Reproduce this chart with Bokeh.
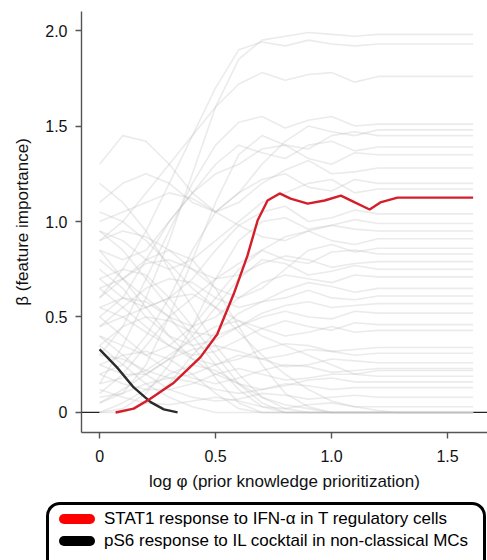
import html
from bokeh.plotting import figure
from bokeh.models import Range1d, FixedTicker, Div
from bokeh.layouts import column
from bokeh.embed import file_html
from bokeh.resources import INLINE

# ---------------- data ----------------
phi_grid = [0.0, 0.1, 0.2, 0.3, 0.4, 0.5, 0.6, 0.7, 0.8, 0.9, 1.0, 1.1, 1.2, 1.28, 1.61]

bg_high = [
    [0.15, 0.35, 0.60, 0.90, 1.25, 1.60, 1.85, 1.95, 1.97, 1.99, 1.98, 1.97, 1.98, 1.98, 1.98],
    [0.60, 0.75, 0.95, 1.20, 1.45, 1.70, 1.90, 1.94, 1.92, 1.95, 1.93, 1.92, 1.93, 1.93, 1.93],
    [0.90, 1.00, 1.15, 1.30, 1.45, 1.60, 1.72, 1.78, 1.74, 1.77, 1.78, 1.73, 1.76, 1.76, 1.76],
    [0.30, 0.45, 0.70, 0.95, 1.20, 1.40, 1.52, 1.55, 1.49, 1.53, 1.55, 1.50, 1.51, 1.51, 1.51],
    [1.30, 1.45, 1.42, 1.30, 1.15, 1.05, 1.15, 1.30, 1.42, 1.50, 1.47, 1.45, 1.48, 1.48, 1.48],
    [0.05, 0.10, 0.25, 0.50, 0.80, 1.10, 1.35, 1.45, 1.40, 1.38, 1.45, 1.47, 1.45, 1.45, 1.45],
    [0.85, 0.80, 0.85, 1.00, 1.15, 1.30, 1.40, 1.36, 1.33, 1.40, 1.42, 1.37, 1.39, 1.39, 1.39],
    [0.50, 0.60, 0.80, 1.00, 1.15, 1.25, 1.30, 1.38, 1.40, 1.33, 1.30, 1.36, 1.35, 1.35, 1.35],
    [1.10, 1.20, 1.25, 1.20, 1.10, 1.05, 1.10, 1.20, 1.27, 1.32, 1.25, 1.26, 1.28, 1.28, 1.28],
    [0.20, 0.25, 0.40, 0.60, 0.85, 1.05, 1.15, 1.22, 1.25, 1.18, 1.16, 1.22, 1.20, 1.20, 1.20],
    [0.95, 0.90, 0.80, 0.75, 0.80, 0.90, 1.00, 1.10, 1.15, 1.20, 1.22, 1.15, 1.17, 1.17, 1.17],
    [0.70, 0.60, 0.55, 0.60, 0.70, 0.85, 0.98, 1.05, 1.08, 1.00, 1.02, 1.06, 1.04, 1.04, 1.04],
]

bg_mid = [
    [0.00, 0.02, 0.10, 0.25, 0.45, 0.70, 0.90, 1.00, 1.02, 0.96, 0.98, 1.01, 0.99, 0.99, 0.99],
    [1.00, 1.05, 1.10, 1.15, 1.12, 1.05, 0.98, 0.92, 0.90, 0.95, 0.98, 0.96, 0.95, 0.95, 0.95],
    [0.40, 0.35, 0.30, 0.35, 0.45, 0.60, 0.75, 0.85, 0.92, 0.95, 0.90, 0.88, 0.91, 0.91, 0.91],
    [0.90, 0.95, 0.92, 0.85, 0.75, 0.65, 0.60, 0.65, 0.75, 0.85, 0.88, 0.84, 0.86, 0.86, 0.86],
    [0.10, 0.20, 0.35, 0.50, 0.60, 0.70, 0.78, 0.85, 0.80, 0.78, 0.84, 0.85, 0.83, 0.83, 0.83],
    [0.60, 0.70, 0.78, 0.80, 0.75, 0.70, 0.72, 0.78, 0.82, 0.80, 0.76, 0.78, 0.79, 0.79, 0.79],
    [0.25, 0.20, 0.20, 0.28, 0.40, 0.55, 0.70, 0.80, 0.78, 0.72, 0.74, 0.77, 0.75, 0.75, 0.75],
    [0.80, 0.70, 0.60, 0.50, 0.45, 0.50, 0.60, 0.68, 0.72, 0.70, 0.68, 0.72, 0.71, 0.71, 0.71],
    [0.45, 0.55, 0.65, 0.70, 0.68, 0.60, 0.55, 0.58, 0.64, 0.68, 0.66, 0.63, 0.65, 0.65, 0.65],
    [0.00, 0.00, 0.05, 0.15, 0.30, 0.42, 0.52, 0.58, 0.60, 0.64, 0.60, 0.59, 0.61, 0.61, 0.61],
    [0.75, 0.65, 0.50, 0.40, 0.35, 0.38, 0.45, 0.52, 0.56, 0.58, 0.55, 0.56, 0.57, 0.57, 0.57],
    [0.35, 0.45, 0.50, 0.48, 0.42, 0.40, 0.45, 0.50, 0.53, 0.50, 0.49, 0.53, 0.52, 0.52, 0.52],
]

bg_low = [
    [0.55, 0.50, 0.42, 0.35, 0.30, 0.32, 0.38, 0.44, 0.48, 0.45, 0.43, 0.47, 0.46, 0.46, 0.46],
    [0.15, 0.18, 0.22, 0.30, 0.38, 0.45, 0.48, 0.44, 0.40, 0.42, 0.45, 0.42, 0.43, 0.43, 0.43],
    [0.65, 0.55, 0.45, 0.35, 0.28, 0.25, 0.28, 0.33, 0.36, 0.35, 0.32, 0.33, 0.34, 0.34, 0.34],
    [0.05, 0.12, 0.20, 0.28, 0.33, 0.35, 0.32, 0.28, 0.30, 0.33, 0.32, 0.30, 0.31, 0.31, 0.31],
    [0.30, 0.28, 0.22, 0.18, 0.20, 0.25, 0.30, 0.28, 0.24, 0.25, 0.28, 0.27, 0.26, 0.26, 0.26],
    [0.50, 0.40, 0.30, 0.22, 0.18, 0.15, 0.18, 0.22, 0.25, 0.24, 0.21, 0.22, 0.23, 0.23, 0.23],
    [0.20, 0.15, 0.12, 0.12, 0.15, 0.20, 0.23, 0.20, 0.17, 0.18, 0.20, 0.20, 0.19, 0.19, 0.19],
    [0.85, 0.70, 0.55, 0.40, 0.28, 0.20, 0.15, 0.12, 0.14, 0.17, 0.18, 0.16, 0.16, 0.16, 0.16],
    [0.08, 0.10, 0.15, 0.18, 0.16, 0.12, 0.10, 0.12, 0.15, 0.14, 0.12, 0.13, 0.13, 0.13, 0.13],
    [0.40, 0.30, 0.20, 0.12, 0.08, 0.06, 0.07, 0.10, 0.09, 0.07, 0.08, 0.09, 0.08, 0.08, 0.08],
    [0.12, 0.08, 0.05, 0.04, 0.06, 0.08, 0.06, 0.03, 0.02, 0.04, 0.05, 0.03, 0.03, 0.03, 0.03],
    [1.05, 1.00, 0.90, 0.78, 0.65, 0.55, 0.48, 0.40, 0.35, 0.30, 0.25, 0.20, 0.22, 0.22, 0.22],
]

bg_zero = [
    [0.95, 0.85, 0.70, 0.55, 0.40, 0.25, 0.12, 0.03, 0.00, 0.00, 0.00, 0.00, 0.00, 0.00, 0.00],
    [0.70, 0.75, 0.72, 0.60, 0.45, 0.30, 0.15, 0.05, 0.00, 0.00, 0.00, 0.00, 0.00, 0.00, 0.00],
    [0.55, 0.60, 0.58, 0.50, 0.35, 0.18, 0.05, 0.00, 0.00, 0.00, 0.00, 0.00, 0.00, 0.00, 0.00],
    [0.25, 0.30, 0.32, 0.28, 0.20, 0.10, 0.02, 0.00, 0.00, 0.00, 0.00, 0.00, 0.00, 0.00, 0.00],
    [1.20, 1.10, 0.95, 0.75, 0.55, 0.35, 0.20, 0.08, 0.02, 0.00, 0.00, 0.00, 0.00, 0.00, 0.00],
    [0.35, 0.25, 0.15, 0.08, 0.03, 0.00, 0.00, 0.00, 0.00, 0.00, 0.00, 0.00, 0.00, 0.00, 0.00],
    [0.00, 0.05, 0.12, 0.20, 0.25, 0.22, 0.15, 0.08, 0.04, 0.02, 0.00, 0.00, 0.00, 0.00, 0.00],
    [0.65, 0.70, 0.80, 0.85, 0.80, 0.65, 0.45, 0.25, 0.10, 0.03, 0.00, 0.00, 0.00, 0.00, 0.00],
    [0.45, 0.50, 0.55, 0.60, 0.62, 0.55, 0.42, 0.30, 0.20, 0.12, 0.06, 0.03, 0.01, 0.00, 0.00],
]

stat1_phi = [0.069, 0.147, 0.22, 0.32, 0.435, 0.507, 0.578, 0.637, 0.681, 0.724, 0.776, 0.823,
             0.897, 0.97, 1.04, 1.10, 1.164, 1.21, 1.284, 1.61]
stat1_beta = [0.0, 0.02, 0.073, 0.156, 0.29, 0.41, 0.62, 0.82, 1.005, 1.11, 1.147, 1.12,
              1.094, 1.11, 1.136, 1.10, 1.063, 1.10, 1.125, 1.125]

ps6_phi = [0.0, 0.075, 0.147, 0.22, 0.277, 0.336]
ps6_beta = [0.33, 0.236, 0.131, 0.054, 0.016, 0.0]

baseline = 0.0
y_ticks = [0, 0.5, 1.0, 1.5, 2.0]
y_tick_labels = ["0", "0.5", "1.0", "1.5", "2.0"]
x_ticks = [0, 0.5, 1.0, 1.5]
x_tick_labels = ["0", "0.5", "1.0", "1.5"]
legend_labels = ["STAT1 response to IFN-\u03b1 in T regulatory cells",
                 "pS6 response to IL cocktail in non-classical MCs"]
legend_colors = ["#ff0000", "#000000"]
x_title = "log \u03c6 (prior knowledge prioritization)"
y_title = "\u03b2 (feature importance)"

FONT = "Liberation Sans"

# ---------------- plot ----------------
p = figure(width=487, height=494,
           x_range=Range1d(-0.078, 1.672), y_range=Range1d(-0.105, 2.10),
           output_backend="svg", toolbar_location=None,
           min_border_left=81, min_border_right=0, min_border_top=11, min_border_bottom=62)
p.outline_line_color = None
p.grid.visible = False
p.background_fill_color = "white"

# zero reference line, outside the region covered by the grey paths
p.segment(x0=[p.x_range.start, phi_grid[-1]], y0=[baseline, baseline],
          x1=[phi_grid[0], p.x_range.end], y1=[baseline, baseline],
          line_color="#222222", line_width=1.2)

all_bg = bg_high + bg_mid + bg_low + bg_zero
p.multi_line(xs=[phi_grid] * len(all_bg), ys=all_bg,
             line_color="#bdbdbd", line_alpha=0.3, line_width=1.6)

p.line(ps6_phi, ps6_beta, line_color="#2b2b2b", line_width=2.4)
p.line(stat1_phi, stat1_beta, line_color="#d41f2b", line_width=2.4)

for ax in (p.xaxis[0], p.yaxis[0]):
    ax.axis_line_color = "#555555"
    ax.axis_line_width = 1.4
    ax.major_tick_line_color = "#555555"
    ax.major_tick_line_width = 1.4
    ax.major_tick_out = 6
    ax.major_tick_in = 0
    ax.minor_tick_line_color = None
    ax.major_label_text_font = FONT
    ax.major_label_text_font_size = "16px"
    ax.major_label_text_color = "#111111"
    ax.axis_label_text_font = FONT
    ax.axis_label_text_font_size = "17px"
    ax.axis_label_text_font_style = "normal"
    ax.axis_label_text_color = "#111111"

p.xaxis.ticker = FixedTicker(ticks=x_ticks)
p.yaxis.ticker = FixedTicker(ticks=y_ticks)
p.xaxis.major_label_overrides = dict(zip(x_ticks, x_tick_labels))
p.yaxis.major_label_overrides = dict(zip(y_ticks, y_tick_labels))
p.xaxis.axis_label = x_title
p.yaxis.axis_label = y_title
p.xaxis.major_label_standoff = 11
p.xaxis.axis_label_standoff = 7
p.yaxis.major_label_standoff = 8
p.yaxis.axis_label_standoff = 10

# ---------------- legend (HTML box under the plot) ----------------
rows = "".join(
    '<div style="display:flex;align-items:center;height:22px;white-space:nowrap;">'
    f'<span style="display:inline-block;width:36px;height:10px;border-radius:5px;'
    f'background:{c};margin-right:9px;flex:none;"></span>'
    f'<span>{html.escape(lab)}</span></div>'
    for lab, c in zip(legend_labels, legend_colors)
)
legend_html = (
    '<div style="position:relative;width:487px;height:66px;overflow:hidden;">'
    '<div style="position:absolute;left:46px;top:8px;width:440px;height:72px;'
    'box-sizing:border-box;border:3px solid #000;border-radius:14px;background:#fff;'
    f'padding:3px 0 0 10px;font-family:\'{FONT}\';font-size:17px;line-height:22px;color:#000;">'
    f'{rows}</div></div>'
)
legend_div = Div(text=legend_html, width=487, height=66, margin=(0, 0, 0, 0))

layout = column(p, legend_div, spacing=0)

open("out.html", "w").write(file_html(layout, INLINE))
